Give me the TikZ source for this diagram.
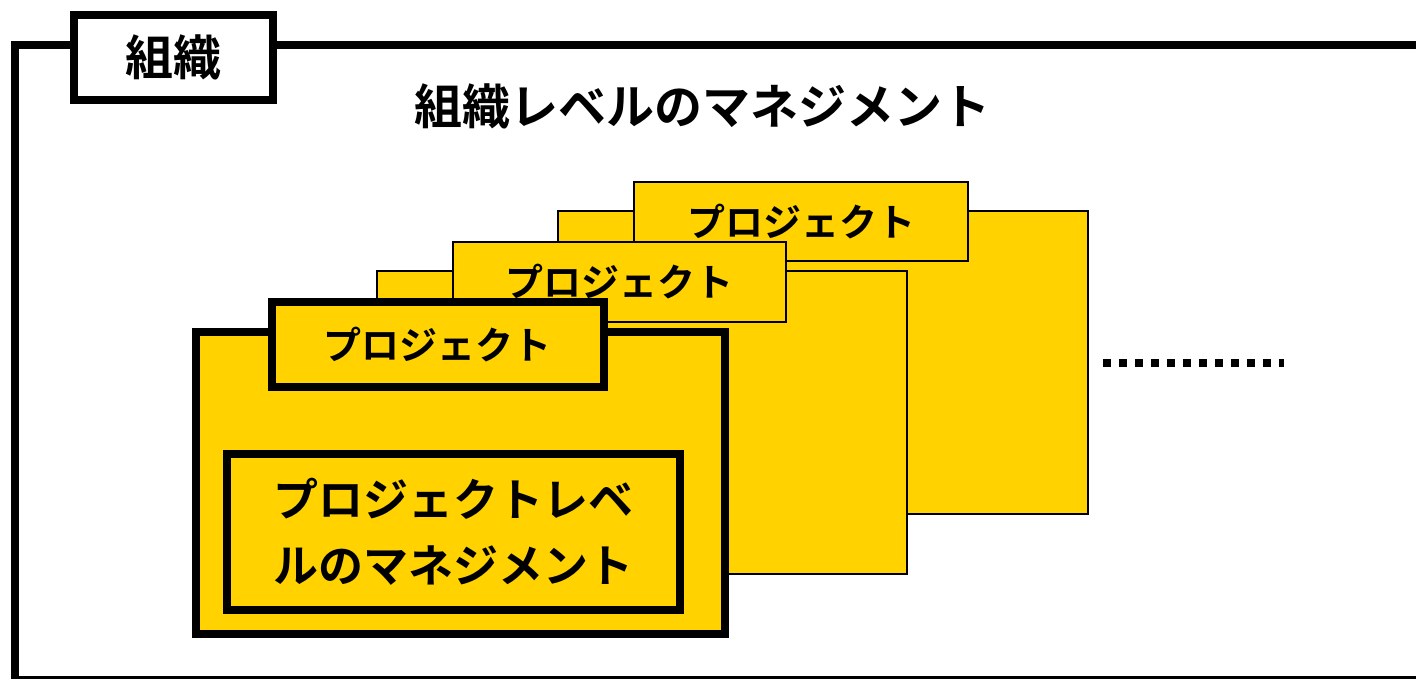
\documentclass[tikz,border=0pt]{standalone}
\usepackage{fontspec}
\newfontfamily\jp{Noto Sans CJK JP}[UprightFont=* Bold, BoldFont=* Bold]
\definecolor{cardyellow}{RGB}{255,210,0}
\tikzset{
  thick frame/.style={draw=black, line width=8pt},
  thin frame/.style={draw=black, line width=2pt},
  cardbody/.style={fill=cardyellow, anchor=north west, inner sep=0pt, outer sep=0pt},
  cardtab/.style={fill=cardyellow, inner sep=0pt, outer sep=0pt,
    font=\jp\fontsize{38}{44}\selectfont},
}
\begin{document}
\begin{tikzpicture}[x=1pt, y=-1pt]
\useasboundingbox (0,0) rectangle (1416,678);
\clip (0,0) rectangle (1416,678);

% organisation frame and its label tab
\node[thick frame, anchor=north west, minimum width=1450pt, minimum height=635pt,
      inner sep=0pt, outer sep=0pt] (org) at (14.5,45) {};
\node[thick frame, fill=white, minimum width=199pt, minimum height=85pt,
      inner sep=0pt, font=\jp\fontsize{48}{56}\selectfont] (orgtab) at (173.5,57.5) {組織};
\node[font=\jp\fontsize{48}{56}\selectfont, inner sep=0pt] (orgtitle) at (702,106)
  {組織レベルのマネジメント};

% back project card
\node[cardbody, thin frame, minimum width=530pt, minimum height=303pt] (bodyC) at (558,211) {};
\node[cardtab, thin frame, minimum width=334pt, minimum height=79pt] (tabC) at (801,221.5) {プロジェクト};

% middle project card
\node[cardbody, thin frame, minimum width=530pt, minimum height=303pt] (bodyB) at (377,271) {};
\node[cardtab, thin frame, minimum width=333pt, minimum height=80pt] (tabB) at (619.5,282) {プロジェクト};

% front project card
\node[cardbody, thick frame, minimum width=529pt, minimum height=302pt] (bodyA) at (196,332) {};
\node[cardtab, thick frame, minimum width=332pt, minimum height=85pt] (tabA) at (437.5,344.5) {プロジェクト};

% project-level management box
\node[thick frame, fill=cardyellow, minimum width=453.5pt, minimum height=155.5pt,
      inner sep=0pt, align=center, font=\jp\fontsize{45}{66}\selectfont]
  (projmgmt) at (453.25,532) {プロジェクトレベ\\ルのマネジメント};

% further projects
\coordinate (dotsL) at (1103,363);
\coordinate (dotsR) at (1284,363);
\draw[line width=8pt, dash pattern=on 8pt off 8pt] (dotsL) -- (dotsR);
\end{tikzpicture}
\end{document}
